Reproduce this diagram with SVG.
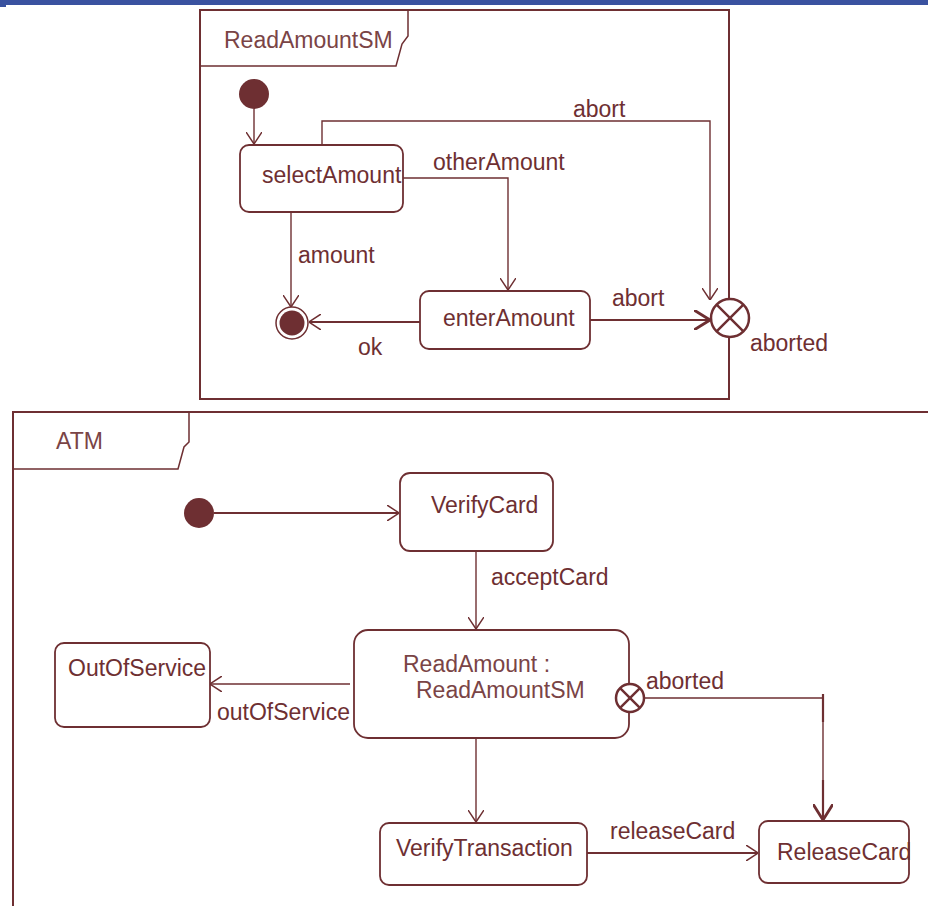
<svg xmlns="http://www.w3.org/2000/svg" width="928" height="906" viewBox="0 0 928 906">
  <style>
    .frame { fill: none; stroke: #6e2f32; stroke-width: 2; }
    .tab { fill: none; stroke: #6e2f32; stroke-width: 1.5; }
    .state { fill: #ffffff; stroke: #6e2f32; stroke-width: 1.8; }
    .dot { fill: #6e2f32; }
    .edge { fill: none; stroke: #6e2f32; stroke-width: 1.4; }
    .edge-bold { fill: none; stroke: #6e2f32; stroke-width: 2.2; }
    .lbl { font-family: "Liberation Sans", Arial, sans-serif; font-size: 23px; fill: #6e2f32; }
    .name { font-family: "Liberation Sans", Arial, sans-serif; font-size: 23px; fill: #7a4446; }
  </style>
  <defs>
    <marker id="open" viewBox="0 0 12 16" refX="12" refY="8" markerWidth="12" markerHeight="16" markerUnits="userSpaceOnUse" orient="auto">
      <path d="M0,0 L12,8 L0,16" fill="none" stroke="#6e2f32" stroke-width="1.5"/>
    </marker>
    <marker id="openBold" viewBox="0 0 16 20" refX="16" refY="10" markerWidth="16" markerHeight="20" markerUnits="userSpaceOnUse" orient="auto">
      <path d="M0,0 L16,10 L0,20" fill="none" stroke="#6e2f32" stroke-width="2.8"/>
    </marker>
  </defs>

  <rect x="0" y="0" width="928" height="5" fill="#3a52a0"/>
  <rect x="0" y="5" width="6" height="2" fill="#3a52a0"/>

  <!-- ReadAmountSM submachine frame -->
  <g id="frame-readamountsm">
    <rect x="200" y="10" width="529" height="389" class="frame"/>
    <path d="M200,66 H396 L402,44 L408,36 V10" class="tab"/>
    <text x="224" y="48" class="name">ReadAmountSM</text>
  </g>

  <!-- ATM frame -->
  <g id="frame-atm">
    <path d="M13,906 V412 H930" class="frame"/>
    <path d="M13,469 H178 L184,447 L189,442 V412" class="tab"/>
    <text x="56" y="449" class="name">ATM</text>
  </g>

  <g id="connectors">
    <!-- ReadAmountSM transitions -->
    <path d="M254,109 V144" class="edge" marker-end="url(#open)" stroke-width="1.8"/>
    <path d="M322,145 V121 H710 V300" class="edge" marker-end="url(#open)"/>
    <path d="M403,178 H508 V290" class="edge" marker-end="url(#open)"/>
    <path d="M291,212 V307" class="edge" marker-end="url(#open)"/>
    <path d="M420,322 H309" class="edge-bold" marker-end="url(#open)"/>
    <path d="M590,320 H710" class="edge-bold" marker-end="url(#openBold)"/>
    <!-- ATM transitions -->
    <path d="M214,513 H399" class="edge-bold" marker-end="url(#open)"/>
    <path d="M476,551 V629" class="edge" marker-end="url(#open)"/>
    <path d="M350,684 H210" class="edge" marker-end="url(#open)"/>
    <path d="M476,739 V822" class="edge" marker-end="url(#open)"/>
    <path d="M644,698 H823 V820" class="edge" marker-end="url(#openBold)"/>
    <path d="M823,694 V722" class="edge-bold"/>
    <path d="M823,780 V820" class="edge-bold"/>
    <path d="M587,853 H758" class="edge-bold" marker-end="url(#open)"/>

    <text x="573" y="117" class="lbl">abort</text>
    <text x="433" y="170" class="lbl">otherAmount</text>
    <text x="298" y="263" class="lbl">amount</text>
    <text x="358" y="355" class="lbl">ok</text>
    <text x="612" y="306" class="lbl">abort</text>
    <text x="750" y="351" class="lbl">aborted</text>
    <text x="491" y="585" class="lbl">acceptCard</text>
    <text x="217" y="720" class="lbl">outOfService</text>
    <text x="646" y="689" class="lbl">aborted</text>
    <text x="610" y="839" class="lbl">releaseCard</text>
  </g>

  <!-- ReadAmountSM states -->
  <g id="initial-readamount">
    <circle cx="254" cy="94" r="15" class="dot"/>
  </g>
  <g id="selectAmount">
    <rect x="240" y="145" width="163" height="67" rx="9" class="state"/>
    <text x="262" y="183" class="lbl">selectAmount</text>
  </g>
  <g id="enterAmount">
    <rect x="420" y="291" width="170" height="58" rx="9" class="state"/>
    <text x="443" y="326" class="lbl">enterAmount</text>
  </g>
  <g id="final-readamount">
    <circle cx="292" cy="323" r="16" fill="#ffffff" stroke="#6e2f32" stroke-width="1.5"/>
    <circle cx="292" cy="323" r="12.5" class="dot"/>
  </g>
  <g id="exit-aborted">
    <circle cx="730" cy="318" r="19" fill="#ffffff" stroke="#6e2f32" stroke-width="2.5"/>
    <path d="M716.6,304.6 L743.4,331.4 M743.4,304.6 L716.6,331.4" stroke="#6e2f32" stroke-width="2.5"/>
  </g>

  <!-- ATM states -->
  <g id="initial-atm">
    <circle cx="199" cy="513" r="15" class="dot"/>
  </g>
  <g id="VerifyCard">
    <rect x="400" y="473" width="153" height="78" rx="10" class="state"/>
    <text x="431" y="513" class="lbl">VerifyCard</text>
  </g>
  <g id="ReadAmount">
    <rect x="354" y="630" width="275" height="108" rx="14" class="state"/>
    <text x="403" y="672" class="name">ReadAmount :</text>
    <text x="416" y="698" class="name">ReadAmountSM</text>
  </g>
  <g id="exit-readamount">
    <circle cx="630" cy="698" r="14" fill="#ffffff" stroke="#6e2f32" stroke-width="2.5"/>
    <path d="M620.1,688.1 L639.9,707.9 M639.9,688.1 L620.1,707.9" stroke="#6e2f32" stroke-width="2.5"/>
  </g>
  <g id="OutOfService">
    <rect x="55" y="643" width="155" height="84" rx="9" class="state"/>
    <text x="68" y="676" class="lbl">OutOfService</text>
  </g>
  <g id="VerifyTransaction">
    <rect x="380" y="823" width="207" height="62" rx="9" class="state"/>
    <text x="396" y="856" class="lbl">VerifyTransaction</text>
  </g>
  <g id="ReleaseCard">
    <rect x="759" y="821" width="150" height="62" rx="9" class="state"/>
    <text x="777" y="860" class="lbl">ReleaseCard</text>
  </g>
</svg>
